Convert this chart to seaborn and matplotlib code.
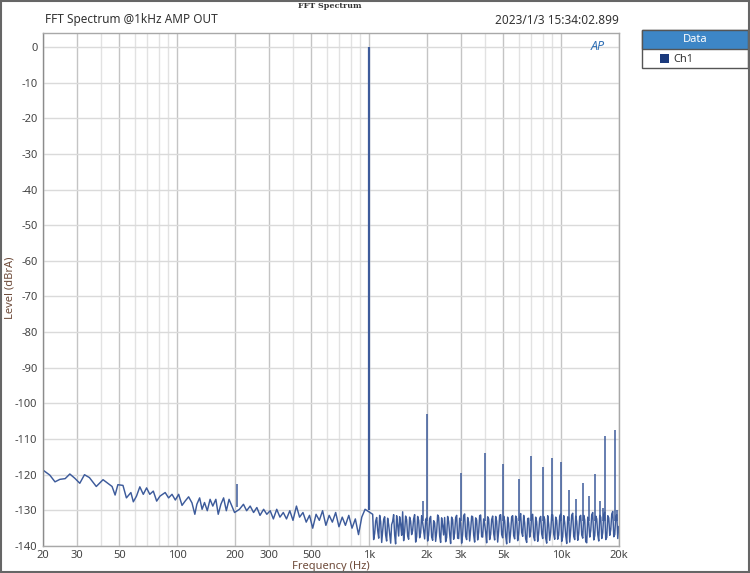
import numpy as np
import pandas as pd
import matplotlib
matplotlib.use('Agg')
import matplotlib.pyplot as plt
import seaborn as sns
from matplotlib.patches import Rectangle
from matplotlib.ticker import FixedLocator, NullFormatter

# sum ispod 1k (ocitano sa slike)
freq_low = [20, 21.7, 23.1, 24.5, 26.1, 27.6, 29.3, 31.1, 32.9, 34.9, 37.9, 41.1, 45.8, 47.5,
            49.1, 52.2, 54.4, 57.4, 59.1, 61.4, 63.9, 66.6, 69.3, 72.0, 75.1, 78.2, 81.4, 86.6,
            90.2, 94.0, 97.8, 101.8, 106, 110, 114.7, 119.4, 123.6, 126.6, 130.9, 134.8, 138.8,
            143.5, 148.4, 153.3, 159, 163.6, 168.9, 174.5, 180.3, 186.3, 192.7, 199, 211, 221.4,
            230, 240, 250, 260, 270, 282, 293, 305, 317, 330, 343, 357, 371, 386, 401, 418, 434,
            452, 470, 489, 508, 529, 550, 572, 595, 619, 643, 669, 696, 724, 752, 783, 814, 847,
            880, 915, 952]
level_low = [-118.7, -120.1, -122.0, -121.3, -121.1, -119.8, -121.0, -122.4, -120.0, -120.8,
             -123.3, -121.4, -123.3, -125.7, -122.8, -123.0, -126.5, -125.0, -127.6, -126.0,
             -123.4, -125.5, -123.7, -125.5, -124.6, -127.4, -126.0, -125.0, -126.5, -125.5,
             -127.1, -125.5, -128.6, -127.4, -126.2, -127.9, -131.1, -128.3, -126.5, -129.7,
             -127.8, -130.1, -126.9, -128.8, -126.9, -131.1, -128.3, -126.5, -130.1, -126.9,
             -128.8, -130.6, -129.7, -128.3, -130.1, -128.8, -130.6, -129.2, -131.4, -129.7,
             -131.1, -130.1, -132.4, -129.7, -131.9, -130.6, -132.4, -130.1, -132.8, -128.8,
             -131.9, -130.6, -133.3, -131.4, -135.0, -131.1, -132.8, -130.1, -134.2, -131.4,
             -133.3, -130.6, -134.6, -131.9, -134.2, -131.4, -135.0, -132.4, -136.8, -131.9,
             -129.7]

# sum iznad 1k
freq_high = [1043, 1068, 1094, 1121, 1148, 1176, 1204, 1233, 1263, 1294, 1325, 1357, 1390, 1424,
             1459, 1494, 1530, 1567, 1605, 1644, 1684, 1725, 1767, 1810, 1854, 1899, 1945, 1992,
             2040, 2090, 2141, 2193, 2246, 2300, 2356, 2413, 2472, 2532, 2593, 2656, 2721, 2787,
             2855, 2924, 2995, 3068, 3142, 3219, 3297, 3377, 3459, 3543, 3629, 3717, 3807, 3900,
             3994, 4091, 4191, 4292, 4397, 4503, 4613, 4725, 4840, 4957, 5078, 5201, 5327, 5457,
             5589, 5725, 5864, 6006, 6152, 6302, 6455, 6612, 6772, 6937, 7105, 7278, 7455, 7636,
             7821, 8011, 8206, 8405, 8610, 8819, 9033, 9253, 9477, 9708, 9944, 10185, 10433, 10686,
             10946, 11212, 11484, 11763, 12049, 12342, 12642, 12949, 13264, 13586, 13916, 14254,
             14601, 14955, 15319, 15691, 16072, 16463, 16863, 17273, 17692, 18122, 18563, 19014,
             19476, 19950]
level_high = [-131.1, -136.5, -132.0, -137.8, -133.2, -135.9, -131.8, -138.6, -134.0, -139.2,
              -133.1, -136.8, -131.5, -137.2, -133.9, -130.4, -136.0, -132.6, -138.1, -133.0,
              -135.7, -131.2, -137.4, -132.8, -136.3, -133.4, -138.0, -132.1, -136.9, -131.7,
              -138.4, -133.5, -136.1, -131.9, -139.0, -134.2, -132.0, -137.6, -133.1, -139.3,
              -132.6, -136.4, -131.4, -137.9, -133.6, -136.8, -131.0, -138.2, -133.3, -135.5,
              -131.8, -138.9, -132.7, -136.2, -131.3, -137.5, -133.8, -139.1, -132.4, -136.7,
              -131.6, -138.3, -133.0, -135.8, -131.2, -137.7, -132.9, -139.4, -133.7, -136.0,
              -131.5, -138.0, -132.3, -136.6, -130.9, -137.3, -133.5, -139.0, -132.2, -135.9,
              -131.1, -138.5, -133.2, -136.4, -131.7, -137.9, -132.5, -139.2, -133.9, -136.1,
              -131.3, -138.1, -132.8, -136.9, -131.0, -137.4, -133.4, -139.3, -132.0, -135.6,
              -130.8, -138.2, -133.1, -136.5, -131.4, -137.8, -132.7, -139.1, -133.3, -135.7,
              -130.6, -137.1, -132.4, -138.6, -131.9, -136.3, -130.5, -137.6, -132.1, -135.4,
              -130.3, -136.8, -131.2, -134.5]

# dodatne tocke suma izmedju gornjih (gusci prikaz)
freq_mid = [1055, 1081, 1107, 1134, 1162, 1190, 1218, 1248, 1278, 1309, 1341, 1373, 1407, 1441,
            1476, 1512, 1548, 1586, 1624, 1664, 1704, 1746, 1788, 1832, 1876, 1922, 1968, 2016,
            2065, 2115, 2167, 2219, 2273, 2328, 2384, 2442, 2502, 2562, 2624, 2688, 2754, 2821,
            2889, 2959, 3031, 3105, 3180, 3258, 3337, 3418, 3501, 3586, 3673, 3762, 3853, 3947,
            4042, 4141, 4241, 4344, 4450, 4558, 4669, 4782, 4898, 5017, 5139, 5264, 5392, 5523,
            5657, 5794, 5935, 6079, 6227, 6378, 6533, 6692, 6854, 7021, 7191, 7366, 7545, 7728,
            7916, 8108, 8305, 8507, 8714, 8926, 9143, 9365, 9592, 9826, 10064, 10309, 10559,
            10816, 11079, 11348, 11623, 11905, 12195, 12491, 12795, 13106, 13425, 13750, 14085,
            14427, 14778, 15137, 15505, 15881, 16267, 16663, 17068, 17482, 17907, 18342, 18788,
            19245, 19713]
level_mid = [-138.2, -133.0, -135.6, -131.4, -139.0, -132.5, -136.9, -132.2, -136.4, -134.0,
             -131.2, -139.4, -134.1, -131.8, -137.0, -138.5, -131.6, -137.2, -131.9, -136.8,
             -132.4, -138.9, -131.7, -137.7, -131.5, -135.8, -132.6, -138.6, -132.3, -137.5,
             -132.9, -138.7, -131.3, -137.2, -132.1, -136.9, -138.8, -131.7, -136.6, -131.9,
             -138.1, -132.0, -137.8, -132.2, -139.2, -131.5, -137.3, -132.0, -138.6, -131.6,
             -136.9, -132.1, -138.3, -131.5, -137.4, -132.4, -136.1, -131.8, -138.2, -132.6,
             -136.5, -131.7, -138.9, -131.4, -136.8, -131.6, -137.2, -131.9, -139.0, -131.8,
             -137.1, -131.6, -138.5, -132.0, -136.2, -131.4, -138.0, -132.3, -137.5, -131.3,
             -137.4, -131.9, -138.7, -132.2, -136.6, -131.7, -137.8, -131.5, -138.4, -131.2,
             -136.7, -131.9, -138.1, -131.6, -138.7, -131.5, -137.0, -131.8, -138.9, -131.3,
             -137.3, -131.6, -138.4, -131.7, -136.9, -131.4, -138.8, -131.9, -137.5, -131.2,
             -138.3, -131.6, -136.8, -131.4, -137.9, -131.1, -138.2, -131.5, -137.0, -131.0,
             -137.4, -131.6, -137.9]

# harmonici
spike_freq = [205, 1000, 1900, 2000, 3000, 4000, 5000, 6000, 7000, 8000, 9000, 10000, 11000,
              12000, 13000, 14000, 15000, 16000, 16500, 17000, 19000, 19500]
spike_level = [-122.5, 0.0, -127.3, -103.1, -119.6, -113.8, -117.0, -121.1, -114.7, -117.8,
               -115.4, -116.3, -124.3, -126.9, -122.2, -126.0, -119.8, -127.3, -129.2, -109.1,
               -107.5, -130.0]
spike_base = [-129.0, -130.0, -133.0, -133.0, -133.0, -133.0, -133.0, -133.0, -133.0, -133.0,
              -133.0, -133.0, -133.0, -133.0, -133.0, -133.0, -133.0, -133.0, -133.0, -133.0,
              -133.0, -133.0]

x_ticks = [20, 30, 50, 100, 200, 300, 500, 1000, 2000, 3000, 5000, 10000, 20000]
x_tick_labels = ['20', '30', '50', '100', '200', '300', '500', '1k', '2k', '3k', '5k', '10k', '20k']
x_minor = [40, 60, 70, 80, 90, 400, 600, 700, 800, 900, 4000, 6000, 7000, 8000, 9000]
y_ticks = list(range(0, -150, -10))

sns.set_style('white')
plt.rcParams['font.family'] = ['Noto Sans', 'DejaVu Sans']

df = pd.DataFrame({'freq': freq_low + freq_high + freq_mid,
                   'level': level_low + level_high + level_mid})
line_col = '#3d5b9b'

fig = plt.figure(figsize=(7.5, 5.73), dpi=100)
ax = fig.add_axes([0.0573, 0.0471, 0.768, 0.8953])

sns.lineplot(data=df, x='freq', y='level', ax=ax, color=line_col, lw=1.05)
for f, lv, b in zip(spike_freq, spike_level, spike_base):
    ax.vlines(f, b, lv, color=line_col, lw=1.6 if f == 1000 else 1.1)

ax.set_xscale('log')
ax.set_xlim(20, 20000)
ax.set_ylim(-140, 3.9)
ax.xaxis.set_major_locator(FixedLocator(x_ticks))
ax.set_xticklabels(x_tick_labels)
ax.xaxis.set_minor_locator(FixedLocator(x_minor))
ax.xaxis.set_minor_formatter(NullFormatter())
ax.set_yticks(y_ticks)
ax.set_yticklabels([str(v) for v in y_ticks])
ax.tick_params(axis='both', which='both', length=0, labelsize=8, labelcolor='#444444')
ax.tick_params(axis='x', pad=3)
ax.tick_params(axis='y', pad=4)

ax.grid(which='major', axis='x', color='#c4c4c4', lw=1.0)
ax.grid(which='minor', axis='x', color='#e2e2e2', lw=1.0)
ax.grid(which='major', axis='y', color='#dadada', lw=1.0)
ax.set_axisbelow(True)
for s in ax.spines.values():
    s.set_color('#a8a8a8')
    s.set_linewidth(1.0)
ax.spines['left'].set_color('#8c8c8c')

ax.set_xlabel('Frequency (Hz)', fontsize=8, color='#6e4b3a', labelpad=0)
ax.set_ylabel('')
fig.text(10 / 750, 1 - 288 / 573, 'Level (dBrA)', fontsize=8, color='#6e4b3a',
         rotation=90, ha='center', va='center')

# naslovi
fig.text(330 / 750, 1 - 6 / 573, 'FFT Spectrum', family='DejaVu Serif', fontsize=5.8,
         weight='bold', ha='center', va='center', color='#333333')
fig.text(45 / 750, 1 - 20 / 573, 'FFT Spectrum @1kHz AMP OUT', fontsize=8.5,
         ha='left', va='center', color='#333333')
fig.text(619 / 750, 1 - 20 / 573, '2023/1/3 15:34:02.899', fontsize=8.5,
         ha='right', va='center', color='#333333')
fig.text(598 / 750, 1 - 46 / 573, 'AP', fontsize=9, style='italic', weight='bold',
         ha='center', va='center', color='#2f6fb5')

# legenda
fig.patches.append(Rectangle((642 / 750, 1 - 68 / 573), 106 / 750, 38 / 573,
                             transform=fig.transFigure, fc='white', ec='#555555', lw=1.0))
fig.patches.append(Rectangle((642 / 750, 1 - 49 / 573), 106 / 750, 19 / 573,
                             transform=fig.transFigure, fc='#3d86c6', ec='#555555', lw=1.0))
fig.text(695 / 750, 1 - 40 / 573, 'Data', fontsize=8, weight='bold', color='white',
         ha='center', va='center')
fig.patches.append(Rectangle((660 / 750, 1 - 63 / 573), 9 / 750, 9 / 573,
                             transform=fig.transFigure, fc='#1b3a7c', ec='none'))
fig.text(673 / 750, 1 - 59 / 573, 'Ch1', fontsize=8, color='#333333', ha='left', va='center')

# okvir slike
fig.patches.append(Rectangle((0.001, 0.001), 0.998, 0.997, transform=fig.transFigure,
                             fc='none', ec='#666666', lw=1.5))

fig.savefig('out.png', dpi=100)
